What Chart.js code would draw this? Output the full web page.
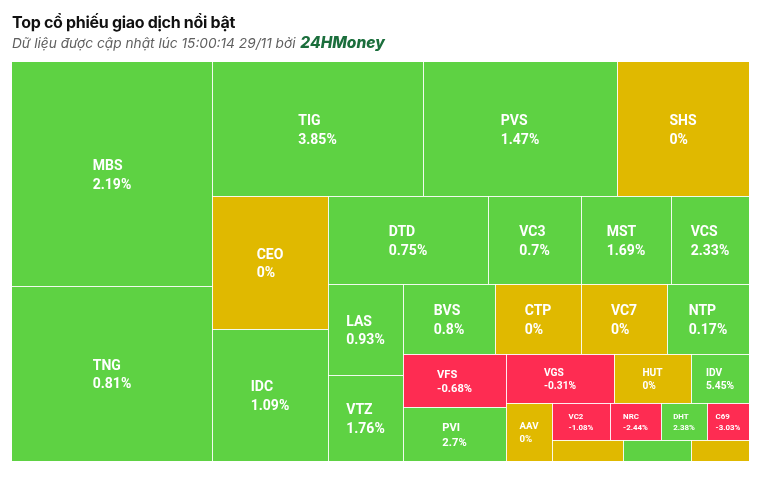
<!DOCTYPE html>
<html><head><meta charset="utf-8">
<script src="https://cdn.jsdelivr.net/npm/chart.js@4.4.0/dist/chart.umd.min.js"></script>
<style>html,body{margin:0;padding:0;background:#fff;}#wrap{width:764px;height:477px;}</style>
</head><body><div id="wrap"><canvas id="c" width="764" height="477"></canvas></div>
<script>
// ---- data ----
const titleText = 'Top cổ phiếu giao dịch nổi bật';
const subtitleText = 'Dữ liệu được cập nhật lúc 15:00:14 29/11 bởi ';
const brandText = '24HMoney';
const tickers = ['MBS','TNG','TIG','PVS','SHS','CEO','IDC','DTD','VC3','MST','VCS','LAS','VTZ','BVS','CTP','VC7','NTP','VFS','PVI','VGS','HUT','IDV','AAV','VC2','NRC','DHT','C69','Khác 1','Khác 2','Khác 3'];
const tradeValues = [44900,35100,28250,25900,17730,15380,15150,14180,8160,8000,6870,6870,6480,6410,5960,5980,5680,5480,5500,5310,3770,2820,2720,2190,1920,1740,1590,1460,1390,1190];
const changes = [2.19,0.81,3.85,1.47,0,0,1.09,0.75,0.7,1.69,2.33,0.93,1.76,0.8,0,0,0.17,-0.68,2.7,-0.31,0,5.45,0,-1.08,-2.44,2.38,-3.03,0,0.5,0];

const UP = '#5ED243', FLAT = '#E0B900', DOWN = '#FE2C52';

// ---- squarified layout with alternating direction ----
function makeGroup(h, w, d, plot) {
  const g = {height:h, width:w, plot, direction:d, total:0, nW:0, lW:0, nH:0, lH:0, elArr:[],
    lP:{total:0,lH:0,nH:0,lW:0,nW:0,nR:0,lR:0}};
  const ar = (a,b) => Math.max(a/b, b/a);
  g.add = function(el) {
    g.lP.total = g.elArr[g.elArr.length-1];
    g.total += el;
    if (g.direction === 0) {
      g.lW = g.nW; g.lP.lH = g.lP.total / g.lW; g.lP.lR = ar(g.lW, g.lP.lH);
      g.nW = g.total / g.height; g.lP.nH = g.lP.total / g.nW; g.lP.nR = ar(g.nW, g.lP.nH);
    } else {
      g.lH = g.nH; g.lP.lW = g.lP.total / g.lH; g.lP.lR = ar(g.lP.lW, g.lH);
      g.nH = g.total / g.width; g.lP.nW = g.lP.total / g.nH; g.lP.nR = ar(g.lP.nW, g.nH);
    }
    g.elArr.push(el);
  };
  g.reset = function(){ g.nW = 0; g.lW = 0; g.elArr = []; g.total = 0; };
  return g;
}
function calcPoints(last, g, out) {
  const plot = g.plot, end = g.elArr.length - 1;
  let gW = g.lW, gH = g.lH, keep;
  if (last) { gW = g.nW; gH = g.nH; } else { keep = g.elArr[end]; }
  g.elArr.forEach((p, i) => {
    if (last || i < end) {
      let w, h;
      if (g.direction === 0) { w = gW; h = p / w; } else { h = gH; w = p / h; }
      out.push({x:plot.x, y:plot.y, w, h});
      if (g.direction === 0) plot.y += h; else plot.x += w;
    }
  });
  g.reset();
  if (g.direction === 0) g.width -= gW; else g.height -= gH;
  plot.y = plot.parent.y + (plot.parent.height - g.height);
  plot.x = plot.parent.x + (plot.parent.width - g.width);
  g.direction = 1 - g.direction;
  if (!last) g.add(keep);
}
function squarified(values, rect) {
  const total = values.reduce((a,b)=>a+b,0);
  const out = [];
  const plot = {x:rect.x, y:rect.y, parent:rect};
  const g = makeGroup(rect.height, rect.width, 0, plot);
  const end = values.length - 1;
  values.forEach((v, i) => {
    g.add(rect.width * rect.height * v / total);
    if (g.lP.nR > g.lP.lR) calcPoints(false, g, out);
    if (i === end) calcPoints(true, g, out);
  });
  return out;
}

const treemapPlugin = {
  id: 'treemapCells',
  afterDatasetsDraw(chart) {
    const {ctx, chartArea:a, scales:{x, y}} = chart;
    const W = a.right - a.left, H = a.bottom - a.top;
    const cells = squarified(tradeValues, {x:0, y:0, width:W, height:H});
    ctx.save();
    cells.forEach((c, i) => {
      const x0 = Math.round(x.getPixelForValue(c.x / W));
      const x1 = Math.round(x.getPixelForValue((c.x + c.w) / W));
      const y0 = Math.round(y.getPixelForValue(c.y / H));
      const y1 = Math.round(y.getPixelForValue((c.y + c.h) / H));
      const ch = changes[i];
      ctx.fillStyle = ch > 0 ? UP : (ch < 0 ? DOWN : FLAT);
      ctx.fillRect(x0, y0, x1 - x0, y1 - y0);
      ctx.strokeStyle = 'rgba(255,255,255,0.9)';
      ctx.lineWidth = 1;
      ctx.beginPath();
      if (x0 > a.left + 1) { ctx.moveTo(x0 + 0.5, y0); ctx.lineTo(x0 + 0.5, y1); }
      if (y0 > a.top + 1) { ctx.moveTo(x0, y0 + 0.5); ctx.lineTo(x1, y0 + 0.5); }
      ctx.stroke();
      // label
      const fs = Math.min(14, Math.min(c.w, c.h) / 4.8);
      if (fs < 6) return;
      const l1 = tickers[i], l2 = ch + '%';
      ctx.font = 'bold ' + fs.toFixed(1) + 'px Roboto';
      const bw = Math.max(ctx.measureText(l1).width, ctx.measureText(l2).width);
      const cx = (x0 + x1) / 2, cy = (y0 + y1) / 2 + fs * 0.15, lh = fs * 1.32;
      ctx.fillStyle = '#ffffff';
      ctx.textAlign = 'left';
      ctx.textBaseline = 'middle';
      ctx.fillText(l1, cx - bw / 2, cy - lh / 2);
      ctx.fillText(l2, cx - bw / 2, cy + lh / 2);
    });
    ctx.restore();
  }
};

const headerPlugin = {
  id: 'header',
  afterDraw(chart) {
    const ctx = chart.ctx;
    ctx.save();
    ctx.textAlign = 'left';
    ctx.textBaseline = 'alphabetic';
    ctx.fillStyle = '#111111';
    ctx.font = 'bold 16px Inter';
    ctx.letterSpacing = '-0.3px';
    ctx.fillText(titleText, 12, 28);
    ctx.letterSpacing = '0px';
    ctx.fillStyle = '#5f5f5f';
    ctx.font = 'italic 13.7px Inter';
    ctx.fillText(subtitleText, 12, 47.5);
    const sw = ctx.measureText(subtitleText).width;
    ctx.fillStyle = '#1b6e3c';
    ctx.font = 'italic 800 15.5px Inter';
    ctx.fillText(brandText, 13 + sw, 47.5);
    ctx.restore();
  }
};

new Chart(document.getElementById('c'), {
  type: 'scatter',
  data: { datasets: [{ label: 'Giá trị giao dịch', data: [] }] },
  options: {
    responsive: false,
    animation: false,
    layout: { padding: { left: 12, right: 15, top: 62, bottom: 16 } },
    plugins: { legend: { display: false }, tooltip: { enabled: false } },
    scales: {
      x: { type: 'linear', min: 0, max: 1, display: false },
      y: { type: 'linear', min: 0, max: 1, reverse: true, display: false }
    }
  },
  plugins: [treemapPlugin, headerPlugin]
});
</script></body></html>
